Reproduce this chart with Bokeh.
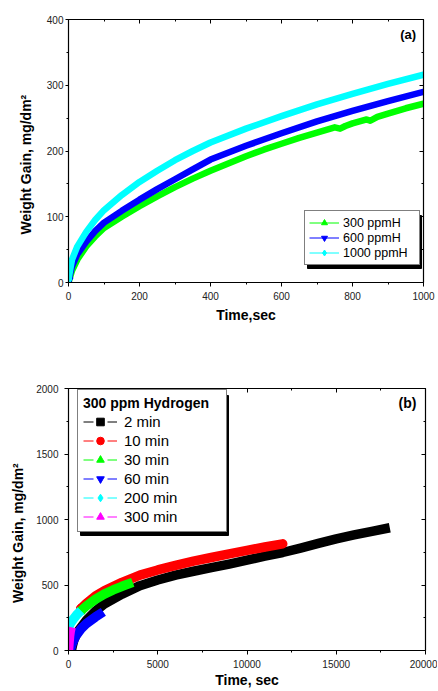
from bokeh.plotting import figure
from bokeh.models import (Range1d, FixedTicker, LinearAxis, Legend, LegendItem, Label,
                          BoxAnnotation)
from bokeh.layouts import column
from bokeh.embed import file_html
from bokeh.resources import INLINE

FONT = "Liberation Sans"

# ---------------- (a) data ----------------
a_x_ticks = [0, 200, 400, 600, 800, 1000]
a_x_minor = [100, 300, 500, 700, 900]
a_y_ticks = [0, 100, 200, 300, 400]
a_y_minor = [50, 150, 250, 350]

t300 = [0, 10, 25, 50, 75, 100, 150, 200, 250, 300, 350, 400, 450, 500, 550, 600,
        650, 700, 750, 765, 780, 800, 840, 850, 870, 900, 950, 1000]
w300 = [0, 18, 35, 55, 70, 83, 100, 116, 131, 145, 158, 170, 181, 192, 202, 211,
        220, 228, 236, 234, 238, 242, 248, 246, 252, 257, 265, 272]
t_hi = [0, 10, 25, 50, 75, 100, 150, 200, 250, 300, 350, 400, 500, 600, 700, 800, 900, 1000]
w600 = [3, 25, 43, 62, 78, 91, 109, 126, 142, 157, 172, 187, 208, 227, 245, 261, 276, 290]
w1000 = [5, 35, 55, 77, 95, 110, 133, 153, 170, 186, 200, 213, 234, 253, 271, 287, 302, 316]
a_labels = ["300 ppmH", "600 ppmH", "1000 ppmH"]

# ---------------- (b) data ----------------
b_x_ticks = [0, 5000, 10000, 15000, 20000]
b_x_minor = [2500, 7500, 12500, 17500]
b_y_ticks = [0, 500, 1000, 1500, 2000]
b_y_minor = [250, 750, 1250, 1750]

t2 = [150, 300, 500, 1000, 1500, 2000, 3000, 4000, 5000, 6000, 7000, 8000, 9000,
      10000, 11000, 12000, 13000, 14000, 15000, 16000, 17000, 18000]
w2 = [0, 80, 140, 230, 300, 355, 430, 495, 538, 575, 605, 632, 660,
      690, 720, 748, 782, 818, 852, 882, 910, 937]
t10 = [700, 1000, 1500, 2000, 3000, 4000, 5000, 6000, 7000, 8000, 9000, 10000, 11000, 12000]
w10 = [320, 360, 415, 455, 520, 575, 615, 650, 682, 710, 738, 764, 790, 814]
t30 = [670, 1000, 1500, 2000, 2500, 3000, 3600]
w30 = [300, 340, 390, 430, 462, 490, 520]
t60 = [100, 200, 400, 700, 1000, 1500, 1950]
w60 = [0, 50, 110, 165, 205, 255, 295]
t200 = [0, 100, 300, 500, 700]
w200 = [180, 205, 245, 278, 305]
t300m = [0, 30, 60, 100, 150]
w300m = [0, 60, 110, 150, 178]
b_labels = ["2 min", "10 min", "30 min", "60 min", "200 min", "300 min"]
b_title = "300 ppm Hydrogen"

Y_LABEL = "Weight Gain, mg/dm\u00b2" + "\u00a0" * 7


def style_main_axis(ax, ticks, minor, label, tick_out, label_standoff, axis_standoff):
    ax.ticker = FixedTicker(ticks=ticks, minor_ticks=minor)
    ax.axis_label = label
    ax.axis_label_text_font = FONT
    ax.axis_label_text_font_style = "bold"
    ax.axis_label_text_font_size = "14px"
    ax.axis_label_text_color = "black"
    ax.axis_label_standoff = axis_standoff
    ax.major_label_text_font = FONT
    ax.major_label_text_font_size = "10px"
    ax.major_label_text_color = "#222222"
    ax.major_label_standoff = label_standoff
    ax.axis_line_color = "black"
    ax.axis_line_width = 1.2
    ax.major_tick_line_color = "black"
    ax.minor_tick_line_color = "black"
    ax.major_tick_out = tick_out
    ax.major_tick_in = 0
    ax.minor_tick_out = 2
    ax.minor_tick_in = 0


def add_mirror(p, ticks, minor, side):
    ax = LinearAxis(ticker=FixedTicker(ticks=ticks, minor_ticks=minor))
    ax.major_label_text_font_size = "1px"
    ax.major_label_text_color = None
    ax.major_label_standoff = 0
    ax.axis_line_color = "black"
    ax.axis_line_width = 1.2
    ax.major_tick_line_color = "black"
    ax.minor_tick_line_color = "black"
    ax.major_tick_out = 0
    ax.major_tick_in = 4
    ax.minor_tick_out = 0
    ax.minor_tick_in = 2
    p.add_layout(ax, side)


def base_fig(xr, yr, fw, fh, left, right, top, bottom):
    p = figure(frame_width=fw, frame_height=fh, x_range=Range1d(*xr), y_range=Range1d(*yr),
               output_backend="svg", toolbar_location=None,
               min_border_left=left, min_border_right=right,
               min_border_top=top, min_border_bottom=bottom)
    p.xgrid.visible = False
    p.ygrid.visible = False
    p.outline_line_color = "black"
    p.background_fill_color = "white"
    p.border_fill_color = "white"
    return p


def add_legend(p, items_spec, loc, font_size, glyph_w, row_h, padding, standoff, label_w,
               est_h, xr, yr, fw, fh, title=None, title_size=None):
    # shadow box (3px offset), in data units derived from the legend geometry
    width = 2 * padding + glyph_w + standoff + label_w
    sx = (xr[1] - xr[0]) / fw
    sy = (yr[1] - yr[0]) / fh
    shadow = BoxAnnotation(left=xr[0] + (loc[0] + 3) * sx,
                           right=xr[0] + (loc[0] + width + 3) * sx,
                           bottom=yr[0] + (loc[1] - 3) * sy,
                           top=yr[0] + (loc[1] + est_h - 3) * sy,
                           fill_color="black", fill_alpha=1, line_color="black",
                           line_alpha=1)
    p.add_layout(shadow)
    items = [LegendItem(label=lab, renderers=rs) for lab, rs in items_spec]
    lg = Legend(items=items, location=loc)
    lg.label_text_font = FONT
    lg.label_text_font_size = font_size
    lg.label_text_color = "black"
    lg.glyph_width = glyph_w
    lg.glyph_height = row_h
    lg.label_height = row_h
    lg.label_width = label_w
    lg.label_standoff = standoff
    lg.spacing = 0
    lg.padding = padding
    lg.margin = 0
    lg.border_line_color = "black"
    lg.border_line_width = 1
    lg.background_fill_color = "white"
    lg.background_fill_alpha = 1
    if title:
        lg.title = title
        lg.title_text_font = FONT
        lg.title_text_font_style = "bold"
        lg.title_text_font_size = title_size
        lg.title_text_color = "black"
        lg.title_standoff = 1
    p.add_layout(lg)


# ---------------- figure (a) ----------------
A_XR, A_YR, A_FW, A_FH = (0, 1000), (0, 400), 355, 263
p1 = base_fig(A_XR, A_YR, A_FW, A_FH, 68, 14, 19, 50)
style_main_axis(p1.xaxis[0], a_x_ticks, a_x_minor, "Time,sec", 4, 5, 4)
style_main_axis(p1.yaxis[0], a_y_ticks, a_y_minor, Y_LABEL, 3, 2, 10)
add_mirror(p1, a_x_ticks, a_x_minor, "above")
add_mirror(p1, a_y_ticks, a_y_minor, "right")

a_specs = []
for xs, ys, col, mk, lab in [(t300, w300, "#00ff00", "triangle", a_labels[0]),
                             (t_hi, w600, "#0000ff", "inverted_triangle", a_labels[1]),
                             (t_hi, w1000, "#00ffff", "diamond", a_labels[2])]:
    p1.line(xs, ys, line_color=col, line_width=6.5, line_cap="round", line_join="round")
    thin = p1.line(xs[:1], ys[:1], line_color=col, line_width=1)
    sc = p1.scatter(xs[:1], ys[:1], marker=mk, size=10 if mk == "diamond" else 9,
                    fill_color=col, line_color=col)
    a_specs.append((lab, [thin, sc]))

add_legend(p1, a_specs, (236, 17), "12.5px", 30, 15, 4, 4, 72, 53,
           A_XR, A_YR, A_FW, A_FH)
p1.add_layout(Label(x=957, y=377, text="(a)", text_font=FONT, text_font_style="bold",
                    text_font_size="13px", text_align="center", text_baseline="middle",
                    text_color="black"))

# ---------------- figure (b) ----------------
B_XR, B_YR, B_FW, B_FH = (0, 20000), (0, 2000), 357, 262
p2 = base_fig(B_XR, B_YR, B_FW, B_FH, 64, 16, 56, 40)
style_main_axis(p2.xaxis[0], b_x_ticks, b_x_minor, "Time, sec", 4, 5, 1)
style_main_axis(p2.yaxis[0], b_y_ticks, b_y_minor, Y_LABEL, 4, 6, 7)
add_mirror(p2, b_x_ticks, b_x_minor, "above")
add_mirror(p2, b_y_ticks, b_y_minor, "right")

b_specs = []
for xs, ys, col, mk, lab, cap in [(t2, w2, "black", "square", b_labels[0], "butt"),
                                  (t10, w10, "#ff0000", "circle", b_labels[1], "round"),
                                  (t30, w30, "#00ff00", "triangle", b_labels[2], "butt"),
                                  (t60, w60, "#0000ff", "inverted_triangle", b_labels[3], "butt"),
                                  (t200, w200, "#00ffff", "diamond", b_labels[4], "butt"),
                                  (t300m, w300m, "#ff00ff", "triangle", b_labels[5], "butt")]:
    p2.line(xs, ys, line_color=col, line_width=9.5, line_cap=cap, line_join="round")
    thin = p2.line(xs[:1], ys[:1], line_color=col, line_width=1, line_dash="10 14 10")
    if lab == b_labels[5]:
        sc = p2.scatter(xs[:1], ys[:1], marker="triangle", angle=1.5708, size=9,
                        fill_color=col, line_color=col)
    else:
        sc = p2.scatter(xs[:1], ys[:1], marker=mk, size=10 if mk == "diamond" else 9,
                        fill_color=col, line_color=col)
    b_specs.append((lab, [thin, sc]))

add_legend(p2, b_specs, (9, 118), "15px", 34, 19, 5, 7, 97, 140,
           B_XR, B_YR, B_FW, B_FH, title=b_title, title_size="14px")
p2.add_layout(Label(x=18991, y=1888, text="(b)", text_font=FONT, text_font_style="bold",
                    text_font_size="14px", text_align="center", text_baseline="middle",
                    text_color="black"))

layout = column(p1, p2, spacing=0)
open("out.html", "w").write(file_html(layout, INLINE))
